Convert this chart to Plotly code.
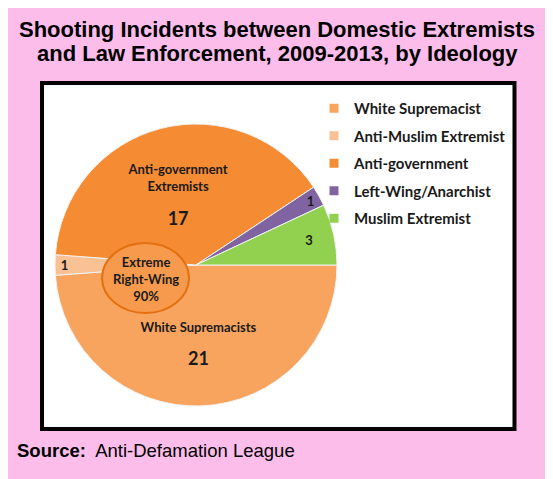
import plotly.graph_objects as go

W, H = 553, 479
OFF = 8  # the page puts the figure 8px in from the top-left corner

# slice data, clockwise from 3 o'clock
labels = ["White Supremacist", "Anti-Muslim Extremist", "Anti-government",
          "Left-Wing/Anarchist", "Muslim Extremist"]
values = [21, 1, 17, 1, 3]
slice_names = ["&nbsp;<br>White Supremacists", "", "Anti-government<br>Extremists", "", ""]
colors = ["#F8A45E", "#FAC294", "#F58B33", "#8064A2", "#92D050"]

title_lines = ["Shooting Incidents between Domestic Extremists",
               "and Law Enforcement, 2009-2013, by Ideology"]
callout_text = "Extreme<br>Right-Wing<br>90%"
source_label = "Source:"
source_name = "Anti-Defamation League"


def px_x(v):
    return (v - OFF) / W


def px_y(v):
    return 1 - (v - OFF) / H


texts = []
for name, v in zip(slice_names, values):
    big = f"<span style='font-size:18px'>{v}</span>"
    texts.append(f"{name}<br><br>{big}" if name else str(v))

fig = go.Figure()

fig.add_trace(go.Pie(
    labels=labels,
    values=values,
    text=texts,
    textinfo="text",
    textposition="inside",
    insidetextorientation="horizontal",
    sort=False,
    direction="clockwise",
    rotation=90,
    marker=dict(colors=colors, line=dict(color="#F2F2F2", width=1)),
    textfont=dict(family="Lato", size=13, color="#1A1A1A", weight="bold"),
    showlegend=False,
    hoverinfo="label+value",
    domain=dict(x=[px_x(55), px_x(337)], y=[px_y(406), px_y(124)]),
))

# legend entries (one group each so the rows can be spaced out)
for lab, col in zip(labels, colors):
    fig.add_trace(go.Scatter(
        x=[None], y=[None], mode="markers", name=lab,
        legendgroup=lab,
        marker=dict(symbol="square", size=9, color=col),
        hoverinfo="skip",
    ))

annotations = []
for i, line in enumerate(title_lines):
    annotations.append(dict(
        text=f"<b>{line}</b>", xref="paper", yref="paper",
        x=px_x(277), y=px_y(29.5 + 24 * i),
        xanchor="center", yanchor="middle", showarrow=False,
        font=dict(family="Liberation Sans", size=22, color="black")))

annotations += [
    dict(text=f"<b>{callout_text}</b>",
         xref="paper", yref="paper", x=px_x(145.5), y=px_y(279),
         xanchor="center", yanchor="middle", showarrow=False,
         font=dict(family="Lato", size=13, color="#1A1A1A")),
    dict(text=f"<b>{source_label}</b>  {source_name}",
         xref="paper", yref="paper", x=px_x(15), y=px_y(450),
         xanchor="left", yanchor="middle", showarrow=False,
         font=dict(family="Liberation Sans", size=18.5, color="black")),
]

fig.update_layout(
    width=W, height=H,
    margin=dict(l=0, r=0, t=0, b=0),
    paper_bgcolor="#FDBDEB",
    plot_bgcolor="rgba(0,0,0,0)",
    xaxis=dict(visible=False),
    yaxis=dict(visible=False),
    showlegend=True,
    legend=dict(
        x=px_x(314), y=px_y(92), xanchor="left", yanchor="top",
        bgcolor="rgba(0,0,0,0)",
        font=dict(family="Lato", size=15, color="#1A1A1A", weight="bold"),
        tracegroupgap=5,
        itemclick=False, itemdoubleclick=False,
    ),
    shapes=[
        dict(type="rect", xref="paper", yref="paper", layer="below",
             x0=px_x(42), x1=px_x(514.5), y0=px_y(429), y1=px_y(83),
             fillcolor="white", line=dict(color="black", width=4)),
        dict(type="circle", xref="paper", yref="paper", layer="above",
             x0=px_x(102), x1=px_x(189), y0=px_y(313), y1=px_y(243),
             fillcolor="#F79A4E", line=dict(color="#E2700F", width=2)),
    ],
    annotations=annotations,
)

fig.write_html("out.html")
